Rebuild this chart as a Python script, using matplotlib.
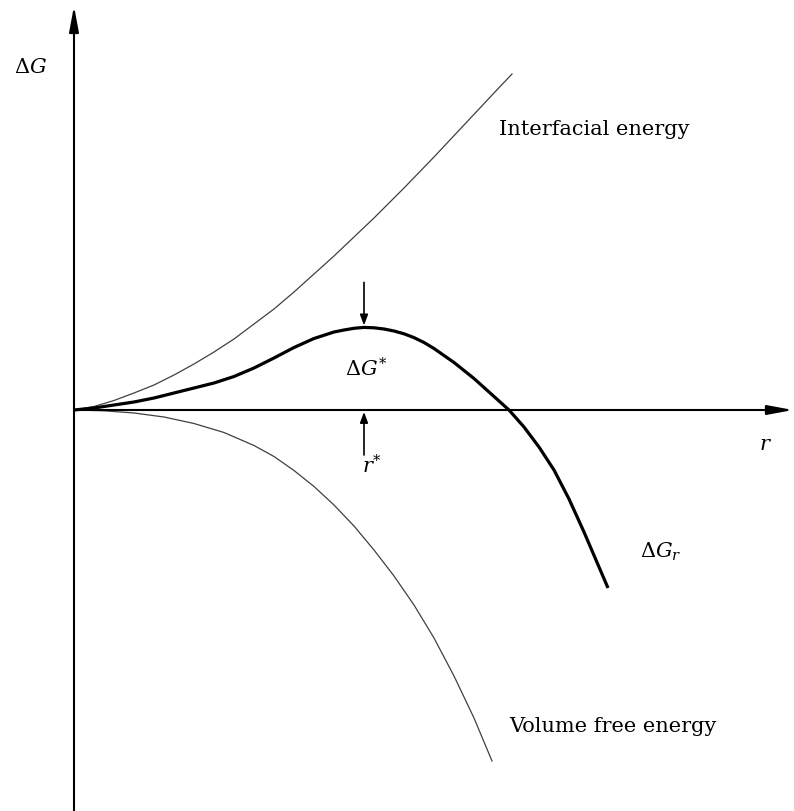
import numpy as np
import matplotlib
matplotlib.use("Agg")
import matplotlib.pyplot as plt

# free-energy curves of a spherical nucleus (arbitrary units)
SURF_R = [0.0, 0.2, 0.4, 0.6, 0.8, 1.0, 1.2, 1.4, 1.6, 1.8, 2.0, 2.2, 2.4,
          2.6, 2.8, 3.0, 3.3, 3.6, 3.9, 4.2, 4.38]
SURF_G = [0.0, 0.035, 0.095, 0.17, 0.25, 0.35, 0.46, 0.58, 0.71, 0.86, 1.01,
          1.18, 1.36, 1.54, 1.73, 1.92, 2.22, 2.53, 2.85, 3.17, 3.36]

VOL_R = [0.0, 0.3, 0.6, 0.9, 1.2, 1.5, 1.8, 2.0, 2.2, 2.4, 2.6, 2.8, 3.0,
         3.2, 3.4, 3.6, 3.8, 4.0, 4.18]
VOL_G = [0.0, -0.008, -0.03, -0.07, -0.135, -0.225, -0.355, -0.465, -0.605,
         -0.765, -0.95, -1.16, -1.40, -1.66, -1.95, -2.28, -2.66, -3.08, -3.51]

TOT_R = [0.0, 0.2, 0.4, 0.6, 0.8, 1.0, 1.2, 1.4, 1.6, 1.8, 2.0, 2.2, 2.4, 2.6,
         2.7, 2.8, 2.9, 3.0, 3.1, 3.2, 3.3, 3.4, 3.5, 3.6, 3.8, 4.0, 4.2, 4.35,
         4.5, 4.65, 4.8, 4.95, 5.1, 5.22, 5.34]
TOT_G = [0.0, 0.02, 0.05, 0.08, 0.12, 0.17, 0.22, 0.27, 0.335, 0.42, 0.52,
         0.625, 0.715, 0.78, 0.80, 0.817, 0.826, 0.822, 0.81, 0.79, 0.762,
         0.724, 0.675, 0.615, 0.475, 0.315, 0.135, 0.0, -0.17, -0.37, -0.60,
         -0.89, -1.22, -1.50, -1.78]

XLIM = (-0.74, 7.20)
YLIM = (-4.01, 4.11)

plt.rcParams["mathtext.fontset"] = "dejavuserif"


def arrow(ax, tail, tip, lw, scale, hl, hw):
    ax.annotate("", xy=tip, xytext=tail,
                arrowprops=dict(arrowstyle=f"-|>,head_length={hl},head_width={hw}",
                                lw=lw, color="black", mutation_scale=scale,
                                shrinkA=0, shrinkB=0))


def main():
    fig = plt.figure(figsize=(7.94, 8.12), dpi=100)
    ax = fig.add_axes([0, 0, 1, 1])
    ax.set_xlim(*XLIM)
    ax.set_ylim(*YLIM)
    ax.axis("off")

    # axes with arrow heads
    arrow(ax, (0, YLIM[0]), (0, YLIM[1] - 0.07), 1.5, 22, 0.7, 0.13)
    arrow(ax, (0, 0), (XLIM[1] - 0.01, 0), 1.5, 22, 0.7, 0.13)

    ax.plot(SURF_R, SURF_G, color="#404040", lw=0.9, solid_joinstyle="round")
    ax.plot(VOL_R, VOL_G, color="#404040", lw=0.9, solid_joinstyle="round")
    ax.plot(TOT_R, TOT_G, color="black", lw=2.3, solid_joinstyle="round",
            solid_capstyle="butt")

    # critical radius and barrier height
    k = int(np.argmax(TOT_G))
    r_star, g_star = TOT_R[k], TOT_G[k]
    arrow(ax, (r_star, g_star + 0.45), (r_star, g_star + 0.02), 1.2, 14, 0.45, 0.17)
    arrow(ax, (r_star, -0.45), (r_star, -0.02), 1.2, 14, 0.45, 0.17)

    serif = dict(family="DejaVu Serif", fontsize=15, color="black")
    ax.text(4.25, 2.76, "Interfacial energy", va="baseline", ha="left", **serif)
    ax.text(4.35, -3.21, "Volume free energy", va="baseline", ha="left", **serif)

    ax.text(-0.44, 3.44, r"$\Delta G$", ha="center", va="center", fontsize=15)
    ax.text(r_star + 0.02, 0.42, r"$\Delta G^{*}$", ha="center", va="center", fontsize=15)
    ax.text(r_star + 0.08, -0.55, r"$r^{*}$", ha="center", va="center", fontsize=15)
    ax.text(6.92, -0.33, r"$r$", ha="center", va="center", fontsize=15)
    ax.text(5.66, -1.41, r"$\Delta G_r$", ha="left", va="center", fontsize=15)

    fig.savefig("out.png", dpi=100, facecolor="white")


if __name__ == "__main__":
    main()
